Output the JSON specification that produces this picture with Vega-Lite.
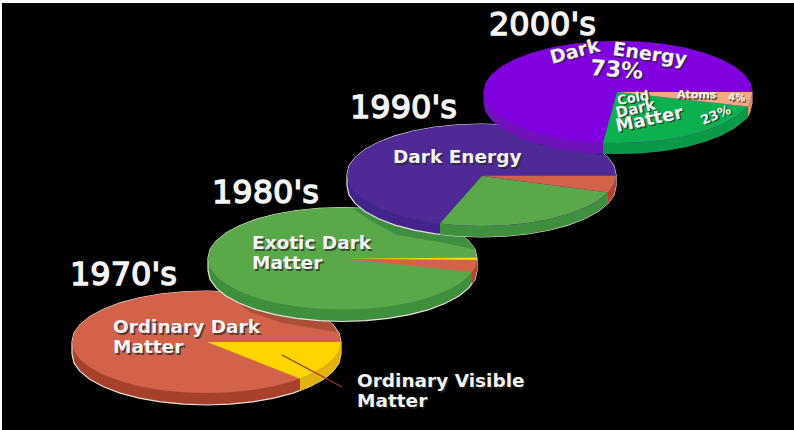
{
"$schema":"https://vega.github.io/schema/vega-lite/v6.json",
"width":794,"height":430,"padding":0,"autosize":{"type":"none"},
"background":"white",
"projection":{"type":"identity","scale":1,"translate":[0,0]},
"config":{"view":{"stroke":null}},
"datasets":{
"years":[
{"label":"1970's","lon":70,"lat":285},
{"label":"1980's","lon":212,"lat":203},
{"label":"1990's","lon":350,"lat":118},
{"label":"2000's","lon":489,"lat":35}
],
"labels":[
{"label":"Ordinary Dark","role":"name","lon":113,"lat":333},
{"label":"Matter","role":"name","lon":113,"lat":353},
{"label":"Ordinary Visible","role":"name","lon":357,"lat":387},
{"label":"Matter","role":"name","lon":357,"lat":407},
{"label":"Exotic Dark","role":"name","lon":252,"lat":249},
{"label":"Matter","role":"name","lon":252,"lat":269},
{"label":"Dark Energy","role":"name","lon":393,"lat":163},
{"label":"Dark","role":"energy left","lon":552,"lat":64},
{"label":"Energy","role":"energy right","lon":612,"lat":55},
{"label":"73%","role":"energy share","lon":590,"lat":75},
{"label":"Cold","role":"cold top","lon":618,"lat":105},
{"label":"Dark","role":"cold middle","lon":617,"lat":118},
{"label":"Matter","role":"cold bottom","lon":617,"lat":132},
{"label":"23%","role":"cold share","lon":703,"lat":125},
{"label":"Atoms","role":"atoms","lon":677,"lat":98},
{"label":"4%","role":"atoms share","lon":728,"lat":100}
]
},
"layer":[
{
"data":{"values":[
{"type":"Feature","part":"space","geometry":{"type":"Polygon","coordinates":[[[2,3],[796,3],[796,432],[2,432],[2,3]]]}},

{"type":"Feature","part":"Ordinary Dark Matter side","geometry":{"type":"Polygon","coordinates":[[[72,342],[74,333.1],[80.1,324.6],[90,316.5],[103.5,309.2],[120,302.9],[139.2,297.8],[160.5,294.1],[183.1,291.8],[206.5,291],[229.9,291.8],[252.5,294.1],[273.8,297.8],[293,302.9],[309.5,309.2],[323,316.5],[332.9,324.6],[339,333.1],[341,342],[341,354],[339,362.9],[332.9,371.4],[323,379.5],[309.5,386.8],[293,393.1],[273.8,398.2],[252.5,401.9],[229.9,404.2],[206.5,405],[183.1,404.2],[160.5,401.9],[139.2,398.2],[120,393.1],[103.5,386.8],[90,379.5],[80.1,371.4],[74,362.9],[72,354],[72,342]]]}},
{"type":"Feature","part":"Ordinary Visible Matter side","geometry":{"type":"Polygon","coordinates":[[[341,342],[339,350.9],[332.9,359.4],[323,367.5],[309.5,374.8],[300,378.7],[300,390.7],[309.5,386.8],[323,379.5],[332.9,371.4],[339,362.9],[341,354],[341,342]]]}},
{"type":"Feature","part":"Ordinary Dark Matter","geometry":{"type":"Polygon","coordinates":[[[341,342],[339,350.9],[332.9,359.4],[323,367.5],[309.5,374.8],[293,381.1],[273.8,386.2],[252.5,389.9],[229.9,392.2],[206.5,393],[183.1,392.2],[160.5,389.9],[139.2,386.2],[120,381.1],[103.5,374.8],[90,367.5],[80.1,359.4],[74,350.9],[72,342],[74,333.1],[80.1,324.6],[90,316.5],[103.5,309.2],[120,302.9],[139.2,297.8],[160.5,294.1],[183.1,291.8],[206.5,291],[229.9,291.8],[252.5,294.1],[273.8,297.8],[293,302.9],[309.5,309.2],[323,316.5],[332.9,324.6],[339,333.1],[341,342]]]}},
{"type":"Feature","part":"Ordinary Visible Matter","geometry":{"type":"Polygon","coordinates":[[[207,342],[341,342],[339,350.9],[332.9,359.4],[323,367.5],[309.5,374.8],[300,378.7],[207,342]]]}},
{"type":"Feature","part":"leader","geometry":{"type":"LineString","coordinates":[[282,355],[342,387]]}},
{"type":"Feature","part":"Ordinary Dark Matter shaded","geometry":{"type":"Polygon","coordinates":[[[337,332],[283,323],[250,312],[230,297],[228,292],[260,295],[300,305],[330,322],[337,332]]]}},

{"type":"Feature","part":"Exotic Dark Matter side","geometry":{"type":"Polygon","coordinates":[[[208,258.5],[210,249.6],[216.1,241.1],[226,233],[239.5,225.7],[256,219.4],[275.2,214.3],[296.5,210.6],[319.1,208.3],[342.5,207.5],[365.9,208.3],[388.5,210.6],[409.8,214.3],[429,219.4],[445.5,225.7],[459,233],[468.9,241.1],[475,249.6],[477,258.5],[477,270.5],[475,279.4],[468.9,287.9],[459,296],[445.5,303.3],[429,309.6],[409.8,314.7],[388.5,318.4],[365.9,320.7],[342.5,321.5],[319.1,320.7],[296.5,318.4],[275.2,314.7],[256,309.6],[239.5,303.3],[226,296],[216.1,287.9],[210,279.4],[208,270.5],[208,258.5]]]}},
{"type":"Feature","part":"Ordinary Dark Matter edge","geometry":{"type":"Polygon","coordinates":[[[477,258.5],[475,267.4],[472,272],[472,284],[475,279.4],[477,270.5],[477,258.5]]]}},
{"type":"Feature","part":"Exotic Dark Matter","geometry":{"type":"Polygon","coordinates":[[[477,258.5],[475,267.4],[468.9,275.9],[459,284],[445.5,291.3],[429,297.6],[409.8,302.7],[388.5,306.4],[365.9,308.7],[342.5,309.5],[319.1,308.7],[296.5,306.4],[275.2,302.7],[256,297.6],[239.5,291.3],[226,284],[216.1,275.9],[210,267.4],[208,258.5],[210,249.6],[216.1,241.1],[226,233],[239.5,225.7],[256,219.4],[275.2,214.3],[296.5,210.6],[319.1,208.3],[342.5,207.5],[365.9,208.3],[388.5,210.6],[409.8,214.3],[429,219.4],[445.5,225.7],[459,233],[468.9,241.1],[475,249.6],[477,258.5]]]}},
{"type":"Feature","part":"Ordinary Dark Matter","geometry":{"type":"Polygon","coordinates":[[[347,259],[477,259.5],[475,267.4],[472,272],[347,259]]]}},
{"type":"Feature","part":"Ordinary Visible Matter","geometry":{"type":"Polygon","coordinates":[[[347,258.7],[477,257.5],[477,260],[347,258.7]]]}},
{"type":"Feature","part":"Exotic Dark Matter shaded","geometry":{"type":"Polygon","coordinates":[[[475,249.6],[440,242],[397,235],[370,220],[353,208.5],[388.5,210.6],[409.8,214.3],[429,219.4],[445.5,225.7],[459,233],[468.9,241.1],[475,249.6]]]}},

{"type":"Feature","part":"Dark Energy 1990 side","geometry":{"type":"Polygon","coordinates":[[[347,175],[349,166.1],[355.1,157.6],[365,149.5],[378.5,142.2],[395,135.9],[414.2,130.8],[435.5,127.1],[458.1,124.8],[481.5,124],[504.9,124.8],[527.5,127.1],[548.8,130.8],[568,135.9],[584.5,142.2],[598,149.5],[607.9,157.6],[614,166.1],[616,175],[616,186],[614,194.9],[607.9,203.4],[598,211.5],[584.5,218.8],[568,225.1],[548.8,230.2],[527.5,233.9],[504.9,236.2],[481.5,237],[458.1,236.2],[435.5,233.9],[414.2,230.2],[395,225.1],[378.5,218.8],[365,211.5],[355.1,203.4],[349,194.9],[347,186],[347,175]]]}},
{"type":"Feature","part":"Exotic Dark Matter edge","geometry":{"type":"Polygon","coordinates":[[[440,223.4],[458.1,225.2],[481.5,226],[504.9,225.2],[527.5,222.9],[548.8,219.2],[568,214.1],[584.5,207.8],[598,200.5],[608,192.5],[608,203.5],[598,211.5],[584.5,218.8],[568,225.1],[548.8,230.2],[527.5,233.9],[504.9,236.2],[481.5,237],[458.1,236.2],[440,234.4],[440,223.4]]]}},
{"type":"Feature","part":"Ordinary Dark Matter edge","geometry":{"type":"Polygon","coordinates":[[[616,175],[614,183.9],[608,192.5],[608,203.5],[614,194.9],[616,186],[616,175]]]}},
{"type":"Feature","part":"Dark Energy 1990","geometry":{"type":"Polygon","coordinates":[[[616,175],[614,183.9],[607.9,192.4],[598,200.5],[584.5,207.8],[568,214.1],[548.8,219.2],[527.5,222.9],[504.9,225.2],[481.5,226],[458.1,225.2],[435.5,222.9],[414.2,219.2],[395,214.1],[378.5,207.8],[365,200.5],[355.1,192.4],[349,183.9],[347,175],[349,166.1],[355.1,157.6],[365,149.5],[378.5,142.2],[395,135.9],[414.2,130.8],[435.5,127.1],[458.1,124.8],[481.5,124],[504.9,124.8],[527.5,127.1],[548.8,130.8],[568,135.9],[584.5,142.2],[598,149.5],[607.9,157.6],[614,166.1],[616,175]]]}},
{"type":"Feature","part":"Exotic Dark Matter","geometry":{"type":"Polygon","coordinates":[[[482,176],[608,192.5],[598,200.5],[584.5,207.8],[568,214.1],[548.8,219.2],[527.5,222.9],[504.9,225.2],[481.5,226],[458.1,225.2],[440,223.4],[482,176]]]}},
{"type":"Feature","part":"Ordinary Dark Matter","geometry":{"type":"Polygon","coordinates":[[[482,175.7],[616,175.7],[614,183.9],[608,192.5],[482,175.7]]]}},
{"type":"Feature","part":"Dark Energy 1990 shaded","geometry":{"type":"Polygon","coordinates":[[[605,155.5],[573,150],[540,145],[517,135],[497,125],[527.5,127.1],[548.8,130.8],[568,135.9],[584.5,142.2],[598,149.5],[605,155.5]]]}},

{"type":"Feature","part":"Dark Energy side","geometry":{"type":"Polygon","coordinates":[[[483.5,92],[485.5,83.1],[491.6,74.6],[501.5,66.5],[515,59.2],[531.5,52.9],[550.7,47.8],[572,44.1],[594.6,41.8],[618,41],[641.4,41.8],[664,44.1],[685.3,47.8],[704.5,52.9],[721,59.2],[734.5,66.5],[744.4,74.6],[750.5,83.1],[752.5,92],[752.5,103],[750.5,111.9],[744.4,120.4],[734.5,128.5],[721,135.8],[704.5,142.1],[685.3,147.2],[664,150.9],[641.4,153.2],[618,154],[594.6,153.2],[572,150.9],[550.7,147.2],[531.5,142.1],[515,135.8],[501.5,128.5],[491.6,120.4],[485.5,111.9],[483.5,103],[483.5,92]]]}},
{"type":"Feature","part":"Cold Dark Matter side","geometry":{"type":"Polygon","coordinates":[[[748,106.5],[744.4,109.4],[734.5,117.5],[721,124.8],[704.5,131.1],[685.3,136.2],[664,139.9],[641.4,142.2],[618,143],[603,142.8],[603,153.8],[618,154],[641.4,153.2],[664,150.9],[685.3,147.2],[704.5,142.1],[721,135.8],[734.5,128.5],[744.4,120.4],[748,117.5],[748,106.5]]]}},
{"type":"Feature","part":"Atoms side","geometry":{"type":"Polygon","coordinates":[[[752.5,92],[750.5,100.9],[748,106.5],[748,117.5],[750.5,111.9],[752.5,103],[752.5,92]]]}},
{"type":"Feature","part":"Dark Energy","geometry":{"type":"Polygon","coordinates":[[[752.5,92],[750.5,100.9],[744.4,109.4],[734.5,117.5],[721,124.8],[704.5,131.1],[685.3,136.2],[664,139.9],[641.4,142.2],[618,143],[594.6,142.2],[572,139.9],[550.7,136.2],[531.5,131.1],[515,124.8],[501.5,117.5],[491.6,109.4],[485.5,100.9],[483.5,92],[485.5,83.1],[491.6,74.6],[501.5,66.5],[515,59.2],[531.5,52.9],[550.7,47.8],[572,44.1],[594.6,41.8],[618,41],[641.4,41.8],[664,44.1],[685.3,47.8],[704.5,52.9],[721,59.2],[734.5,66.5],[744.4,74.6],[750.5,83.1],[752.5,92]]]}},
{"type":"Feature","part":"Cold Dark Matter","geometry":{"type":"Polygon","coordinates":[[[617,92],[748,106.5],[744.4,109.4],[734.5,117.5],[721,124.8],[704.5,131.1],[685.3,136.2],[664,139.9],[641.4,142.2],[618,143],[603,142.8],[617,92]]]}},
{"type":"Feature","part":"Atoms","geometry":{"type":"Polygon","coordinates":[[[617,92],[752.5,92],[750.5,100.9],[748,106.5],[617,92]]]}}
]},
"mark":{"type":"geoshape","strokeWidth":1.2},
"encoding":{
"fill":{"field":"part","type":"nominal","legend":null,"scale":{
"domain":["space","leader","Ordinary Dark Matter","Ordinary Dark Matter side","Ordinary Dark Matter edge","Ordinary Dark Matter shaded","Ordinary Visible Matter","Ordinary Visible Matter side","Exotic Dark Matter","Exotic Dark Matter side","Exotic Dark Matter edge","Exotic Dark Matter shaded","Dark Energy 1990","Dark Energy 1990 side","Dark Energy 1990 shaded","Dark Energy","Dark Energy side","Cold Dark Matter","Cold Dark Matter side","Atoms","Atoms side"],
"range":["#000000","transparent","#d2634a","#a8412c","#b8402c","#ad4f38","#ffd500","#e2b30e","#5aa84a","#3f8f3e","#3f8f3e","#3f8f40","#4f2a96","#43248c","#36206f","#8000e0","#6f12bc","#0cb14e","#0a9a46","#f2a880","#d8905c"]}},
"stroke":{"field":"part","type":"nominal","legend":null,"scale":{
"domain":["space","leader","Ordinary Dark Matter","Ordinary Dark Matter side","Ordinary Dark Matter edge","Ordinary Dark Matter shaded","Ordinary Visible Matter","Ordinary Visible Matter side","Exotic Dark Matter","Exotic Dark Matter side","Exotic Dark Matter edge","Exotic Dark Matter shaded","Dark Energy 1990","Dark Energy 1990 side","Dark Energy 1990 shaded","Dark Energy","Dark Energy side","Cold Dark Matter","Cold Dark Matter side","Atoms","Atoms side"],
"range":["transparent","#a5301e","transparent","#e8e2d8","transparent","transparent","transparent","transparent","transparent","#e8e2d8","transparent","transparent","transparent","#e8e2d8","transparent","transparent","transparent","transparent","transparent","transparent","transparent"]}}
}
},
{
"data":{"name":"years"},
"mark":{"type":"text","font":"DejaVu Sans","fontSize":32,"align":"left","baseline":"alphabetic","color":"#f4f4f4","stroke":"#f4f4f4","strokeWidth":1.4},
"encoding":{
"longitude":{"field":"lon","type":"quantitative"},
"latitude":{"field":"lat","type":"quantitative"},
"text":{"field":"label"}
}
},
{
"data":{"name":"labels"},
"mark":{"type":"text","font":"DejaVu Sans","fontWeight":"bold","align":"left","baseline":"alphabetic","dx":1.5,"dy":1.5,"color":"#262626","opacity":0.7},
"encoding":{
"longitude":{"field":"lon","type":"quantitative"},
"latitude":{"field":"lat","type":"quantitative"},
"text":{"field":"label"},
"size":{"field":"role","type":"ordinal","legend":null,"scale":{"type":"ordinal","domain":["name","energy left","energy right","energy share","cold top","cold middle","cold bottom","cold share","atoms","atoms share"],"range":[18.5,19,19,22,13,15,18,13,11,10]}},
"angle":{"field":"role","type":"ordinal","legend":null,"scale":{"type":"ordinal","domain":["name","energy left","energy right","energy share","cold top","cold middle","cold bottom","cold share","atoms","atoms share"],"range":[0,345,8,4,350,347,348,337,0,5]}}
}
},
{
"data":{"name":"labels"},
"mark":{"type":"text","font":"DejaVu Sans","fontWeight":"bold","align":"left","baseline":"alphabetic","color":"#f4f4f4"},
"encoding":{
"longitude":{"field":"lon","type":"quantitative"},
"latitude":{"field":"lat","type":"quantitative"},
"text":{"field":"label"},
"size":{"field":"role","type":"ordinal","legend":null,"scale":{"type":"ordinal","domain":["name","energy left","energy right","energy share","cold top","cold middle","cold bottom","cold share","atoms","atoms share"],"range":[18.5,19,19,22,13,15,18,13,11,10]}},
"angle":{"field":"role","type":"ordinal","legend":null,"scale":{"type":"ordinal","domain":["name","energy left","energy right","energy share","cold top","cold middle","cold bottom","cold share","atoms","atoms share"],"range":[0,345,8,4,350,347,348,337,0,5]}}
}
}
]
}
